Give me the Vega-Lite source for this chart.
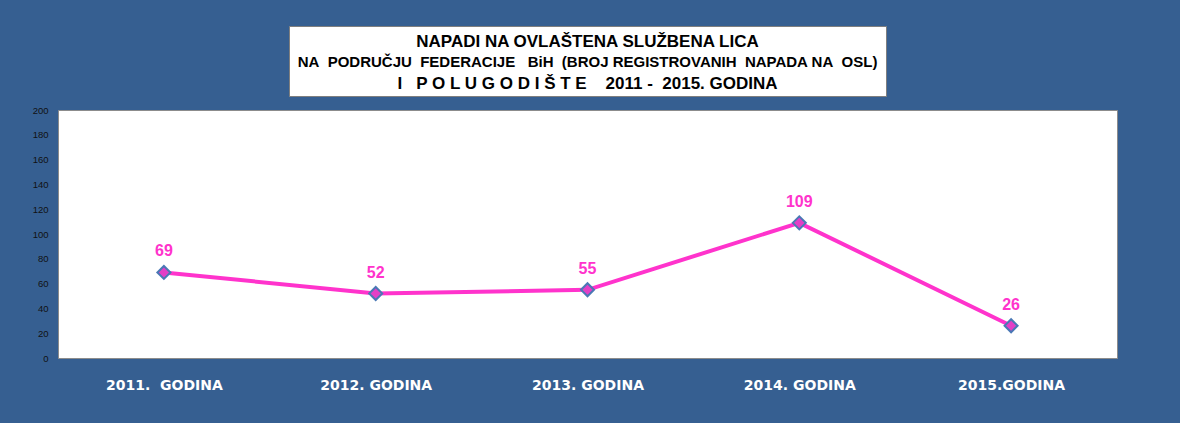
{
  "$schema": "https://vega.github.io/schema/vega-lite/v6.json",
  "background": "#365F91",
  "padding": {"left": 31, "top": 25, "right": 63, "bottom": 30},
  "bounds": "flush",
  "center": true,
  "spacing": 14,
  "config": {"view": {"stroke": null}},
  "datasets": {
    "naslov": [
      {"red": 1, "tekst": "NAPADI NA OVLAŠTENA SLUŽBENA LICA"},
      {"red": 2, "tekst": "NA\u00a0 PODRUČJU\u00a0 FEDERACIJE\u00a0\u00a0 BiH\u00a0 (BROJ REGISTROVANIH\u00a0 NAPADA NA\u00a0 OSL)"},
      {"red": 3, "tekst": "I\u00a0\u00a0 P O L U G O D I Š T E\u00a0\u00a0\u00a0 2011 -\u00a0 2015. GODINA"}
    ],
    "napadi": [
      {"godina": "2011.\u00a0 GODINA", "broj": 69},
      {"godina": "2012. GODINA", "broj": 52},
      {"godina": "2013. GODINA", "broj": 55},
      {"godina": "2014. GODINA", "broj": 109},
      {"godina": "2015.GODINA", "broj": 26}
    ]
  },
  "vconcat": [
    {
      "width": 597,
      "height": 70,
      "view": {"fill": "white", "stroke": "#7f7f7f", "strokeWidth": 1},
      "data": {"name": "naslov"},
      "encoding": {
        "y": {"field": "red", "type": "ordinal", "axis": null, "scale": {"padding": 0.62}},
        "text": {"field": "tekst"}
      },
      "layer": [
        {
          "transform": [{"filter": "datum.red == 1"}],
          "mark": {"type": "text", "font": "Liberation Sans", "fontWeight": "bold", "fontSize": 17, "color": "black", "baseline": "middle", "dy": 3}
        },
        {
          "transform": [{"filter": "datum.red == 2"}],
          "mark": {"type": "text", "font": "Liberation Sans", "fontWeight": "bold", "fontSize": 15, "color": "black", "baseline": "middle", "dy": 1}
        },
        {
          "transform": [{"filter": "datum.red == 3"}],
          "mark": {"type": "text", "font": "Liberation Sans", "fontWeight": "bold", "fontSize": 17, "color": "black", "baseline": "middle", "dy": 1}
        }
      ]
    },
    {
      "width": 1059,
      "height": 248,
      "view": {"fill": "white", "stroke": "#8c8c8c", "strokeWidth": 1},
      "data": {"name": "napadi"},
      "encoding": {
        "x": {
          "field": "godina", "type": "ordinal", "sort": null, "title": null,
          "axis": {"labelAngle": 0, "labelColor": "white", "labelFont": "DejaVu Sans", "labelFontWeight": "bold", "labelFontSize": 14, "labelPadding": 20, "ticks": false, "domain": false, "grid": false}
        },
        "y": {
          "field": "broj", "type": "quantitative", "title": null,
          "scale": {"domain": [0, 200]},
          "axis": {"values": [0, 20, 40, 60, 80, 100, 120, 140, 160, 180, 200], "labelColor": "#111111", "labelFont": "Liberation Sans", "labelFontSize": 9.5, "labelPadding": 10, "ticks": false, "domain": false, "grid": false}
        }
      },
      "layer": [
        {"mark": {"type": "line", "color": "#FF33CC", "strokeWidth": 4}},
        {"mark": {"type": "point", "shape": "diamond", "filled": true, "size": 170, "fill": "#E33FC6", "stroke": "#4A78B5", "strokeWidth": 2, "opacity": 1}},
        {
          "mark": {"type": "text", "color": "#FF33CC", "font": "Liberation Sans", "fontWeight": "bold", "fontSize": 16, "dy": -21, "baseline": "middle"},
          "encoding": {"text": {"field": "broj", "type": "quantitative"}}
        }
      ]
    }
  ]
}
